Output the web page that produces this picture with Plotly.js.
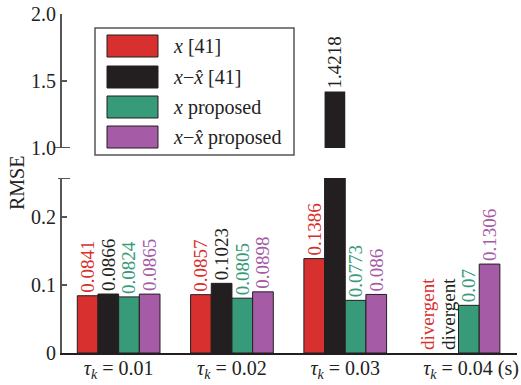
<!DOCTYPE html>
<html><head><meta charset="utf-8">
<script src="https://cdn.plot.ly/plotly-3.0.1.min.js"></script>
<style>html,body{margin:0;padding:0;background:#fff}#chart{width:521px;height:385px}</style>
</head><body><div id="chart"></div>
<script>
const categories = ['<i>τ</i><sub><i>k</i></sub> = 0.01', '<i>τ</i><sub><i>k</i></sub> = 0.02', '<i>τ</i><sub><i>k</i></sub> = 0.03', '\u00a0\u00a0\u00a0\u00a0\u00a0<i>τ</i><sub><i>k</i></sub> = 0.04 (s)'];
const seriesNames = ['<i>x</i> [41]', '<i>x</i>−<i>x\u0302</i> [41]', '<i>x</i> proposed', '<i>x</i>−<i>x\u0302</i> proposed'];
const xPrior = [0.0841, 0.0857, 0.1386, null];
const xErrPrior = [0.0866, 0.1023, 1.4218, null];
const xProposed = [0.0824, 0.0805, 0.0773, 0.07];
const xErrProposed = [0.0865, 0.0898, 0.086, 0.1306];
const divergentLabel = 'divergent';

const colors = ['#d8302f', '#231f20', '#379a78', '#a55ba6'];
const allSeries = [xPrior, xErrPrior, xProposed, xErrProposed];
const lowerMax = 0.257, upperMin = 1.0, upperMax = 2.0;
const font = '"Liberation Serif", "Times New Roman", "DejaVu Serif", serif';

const traces = [];
allSeries.forEach((vals, i) => {
  const y = vals.map(v => v === null ? 0 : v);
  traces.push({
    type: 'bar', x: categories, y: y, xaxis: 'x', yaxis: 'y',
    marker: {color: colors[i], line: {color: '#231f20', width: vals.map(v => v === null ? 0 : 1)}},
    text: vals.map(v => v === null ? divergentLabel : (v <= lowerMax ? String(v) : '')),
    textposition: 'outside', textangle: -90, cliponaxis: false, constraintext: 'none',
    outsidetextfont: {family: font, size: 19, color: colors[i]},
    showlegend: false, hoverinfo: 'skip'
  });
  traces.push({
    type: 'bar', x: categories, y: y, xaxis: 'x', yaxis: 'y2',
    marker: {color: colors[i], line: {color: '#231f20', width: 0}},
    text: vals.map(v => (v !== null && v > upperMin) ? String(v) : ''),
    textposition: 'outside', textangle: -90, cliponaxis: true, constraintext: 'none',
    outsidetextfont: {family: font, size: 19, color: colors[i]},
    showlegend: false, hoverinfo: 'skip'
  });
});

const W = 521, H = 385, ml = 62, mr = 4, mt = 14, mb = 32;
const pw = W - ml - mr, ph = H - mt - mb;
const px = v => (v - ml) / pw;
const py = v => (H - mb - v) / ph;

const shapes = [
  {type: 'line', xref: 'paper', yref: 'y', x0: px(58), x1: px(70), y0: lowerMax, y1: lowerMax, line: {color: '#555', width: 2}},
  {type: 'line', xref: 'paper', yref: 'y2', x0: px(55), x1: px(70), y0: upperMin, y1: upperMin, line: {color: '#555', width: 2}},
  {type: 'rect', xref: 'paper', yref: 'paper', x0: px(95), x1: px(294), y0: py(155), y1: py(28), line: {color: '#555', width: 1.5}, fillcolor: 'white'}
];
const annotations = [
  {text: 'RMSE', xref: 'paper', yref: 'paper', x: px(17), y: py(183), xanchor: 'center', yanchor: 'middle', showarrow: false, textangle: -90, font: {family: font, size: 20, color: '#222'}}
];
const rowY = [46, 77, 107, 137];
seriesNames.forEach((n, i) => {
  shapes.push({type: 'rect', xref: 'paper', yref: 'paper', x0: px(107), x1: px(158), y0: py(rowY[i] + 11), y1: py(rowY[i] - 11), fillcolor: colors[i], line: {color: '#231f20', width: 1}});
  annotations.push({text: n, xref: 'paper', yref: 'paper', x: px(171), y: py(rowY[i]), xanchor: 'left', yanchor: 'middle', showarrow: false, font: {family: font, size: 20, color: '#222'}});
});

const layout = {
  width: W, height: H,
  margin: {l: ml, r: mr, t: mt, b: mb},
  paper_bgcolor: 'white', plot_bgcolor: 'white',
  barmode: 'group', bargap: 0.27, bargroupgap: 0,
  font: {family: font, size: 20, color: '#222'},
  xaxis: {type: 'category', range: [-0.5, 3.516], showline: true, linecolor: '#231f20', linewidth: 1.5, ticks: '', ticklabelstandoff: -4, showgrid: false, zeroline: false, tickfont: {family: font, size: 20, color: '#222'}, anchor: 'y'},
  yaxis: {domain: [0, (H - mb - 178) / ph], range: [0, lowerMax], showline: true, linecolor: '#555', linewidth: 2, ticks: 'inside', ticklen: 5, tickwidth: 1.5, tickcolor: '#555', tickvals: [0, 0.1, 0.2], ticktext: ['0', '0.1', '0.2'], showgrid: false, zeroline: false, tickfont: {family: font, size: 20, color: '#222'}},
  yaxis2: {domain: [(H - mb - 148) / ph, 1], range: [upperMin, upperMax], showline: true, linecolor: '#555', linewidth: 2, ticks: 'inside', ticklen: 5, tickwidth: 1.5, tickcolor: '#555', tickvals: [1.0, 1.5, 2.0], ticktext: ['1.0', '1.5', '2.0'], showgrid: false, zeroline: false, anchor: 'x', tickfont: {family: font, size: 20, color: '#222'}},
  shapes: shapes, annotations: annotations, showlegend: false
};
Plotly.newPlot('chart', traces, layout, {staticPlot: true, displayModeBar: false});
</script></body></html>
